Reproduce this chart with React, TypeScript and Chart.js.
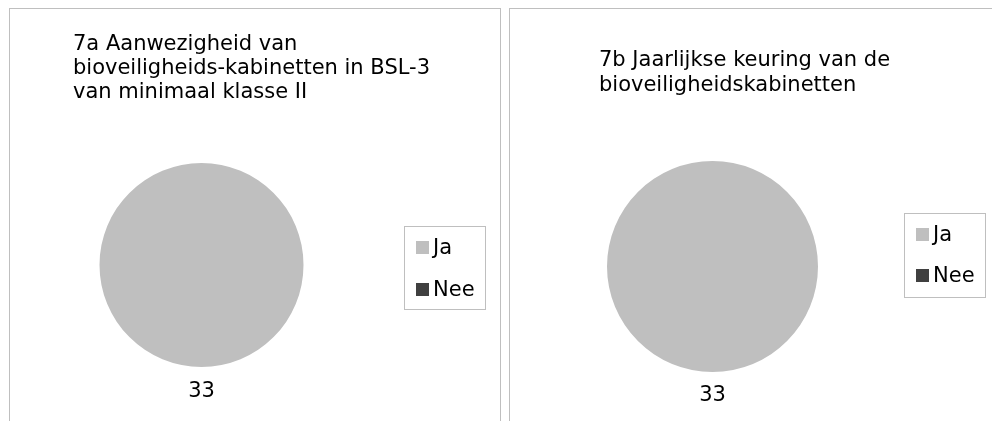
import React, { useEffect, useRef } from "react";
import { Chart, registerables } from "chart.js";

Chart.register(...registerables);

const categories = ["Ja", "Nee"];
const values7a = [33, 0];
const values7b = [33, 0];
const title7a = ["7a Aanwezigheid van", "bioveiligheids-kabinetten in BSL-3", "van minimaal klasse II"];
const title7b = ["7b Jaarlijkse keuring van de", "bioveiligheidskabinetten"];
const sliceColors = ["#BFBFBF", "#404040"];

const FONT = '21px "DejaVu Sans", Verdana, sans-serif';

type PanelCfg = {
  title: string[];
  values: number[];
  titleX: number;
  titleY: number;
  lineH: number;
  legend: { x: number; y: number; w: number; h: number; rowY: number[] };
  padding: { left: number; right: number; top: number; bottom: number };
  labelGap: number;
};

function PieCanvas({ cfg }: { cfg: PanelCfg }) {
  const ref = useRef<HTMLCanvasElement | null>(null);
  useEffect(() => {
    if (!ref.current) return;
    const decor = {
      id: "decor",
      afterDraw(chart: any) {
        const ctx = chart.ctx as CanvasRenderingContext2D;
        ctx.save();
        ctx.font = FONT;
        ctx.fillStyle = "#000";
        ctx.textBaseline = "alphabetic";
        ctx.textAlign = "left";
        cfg.title.forEach((line, i) => ctx.fillText(line, cfg.titleX, cfg.titleY + i * cfg.lineH));
        // legend box
        const L = cfg.legend;
        ctx.strokeStyle = "#BFBFBF";
        ctx.lineWidth = 1;
        ctx.strokeRect(L.x + 0.5, L.y + 0.5, L.w, L.h);
        const labels = chart.data.labels as string[];
        const colors = chart.data.datasets[0].backgroundColor as string[];
        labels.forEach((lab, i) => {
          const base = L.rowY[i];
          ctx.fillStyle = colors[i];
          ctx.fillRect(L.x + 12, base - 13, 13, 13);
          ctx.fillStyle = "#000";
          ctx.fillText(lab, L.x + 29, base);
        });
        // data label below the pie
        const meta = chart.getDatasetMeta(0);
        const arc = meta.data[0] as any;
        const val = chart.data.datasets[0].data[0];
        ctx.textAlign = "center";
        ctx.fillText(String(val), arc.x, arc.y + arc.outerRadius + cfg.labelGap);
        ctx.restore();
      },
    };
    const chart = new Chart(ref.current, {
      type: "pie",
      data: {
        labels: categories,
        datasets: [
          {
            data: cfg.values,
            backgroundColor: sliceColors,
            borderWidth: 0,
            hoverOffset: 0,
            offset: 0,
          },
        ],
      },
      options: {
        responsive: false,
        animation: false,
        events: [],
        layout: { padding: cfg.padding },
        plugins: {
          legend: { display: false },
          title: { display: false },
          tooltip: { enabled: false },
        },
      },
      plugins: [decor],
    });
    return () => chart.destroy();
  }, [cfg]);
  return (
    <canvas
      ref={ref}
      width={490}
      height={420}
      style={{ position: "absolute", left: 0, top: 0, width: 490, height: 420, display: "block" }}
    />
  );
}

const cfgA: PanelCfg = {
  title: title7a,
  values: values7a,
  titleX: 63,
  titleY: 41,
  lineH: 24,
  legend: { x: 394, y: 217, w: 81, h: 83, rowY: [245, 287] },
  padding: { left: 89.5, right: 196.5, top: 154, bottom: 62 },
  labelGap: 30,
};

const cfgB: PanelCfg = {
  title: title7b,
  values: values7b,
  titleX: 89,
  titleY: 57,
  lineH: 24.5,
  legend: { x: 394, y: 204, w: 81, h: 84, rowY: [232, 273] },
  padding: { left: 97, right: 182, top: 152, bottom: 57 },
  labelGap: 29,
};

export default function App() {
  const panel: React.CSSProperties = {
    position: "absolute",
    top: 8,
    height: 440,
    border: "1px solid #BFBFBF",
    boxSizing: "border-box",
    background: "#fff",
  };
  return (
    <div
      style={{
        position: "fixed",
        left: 0,
        top: 0,
        width: 992,
        height: 421,
        overflow: "hidden",
        background: "#fff",
      }}
    >
      <div style={{ ...panel, left: 9, width: 492 }}>
        <PieCanvas cfg={cfgA} />
      </div>
      <div style={{ ...panel, left: 509, width: 500 }}>
        <PieCanvas cfg={cfgB} />
      </div>
    </div>
  );
}
